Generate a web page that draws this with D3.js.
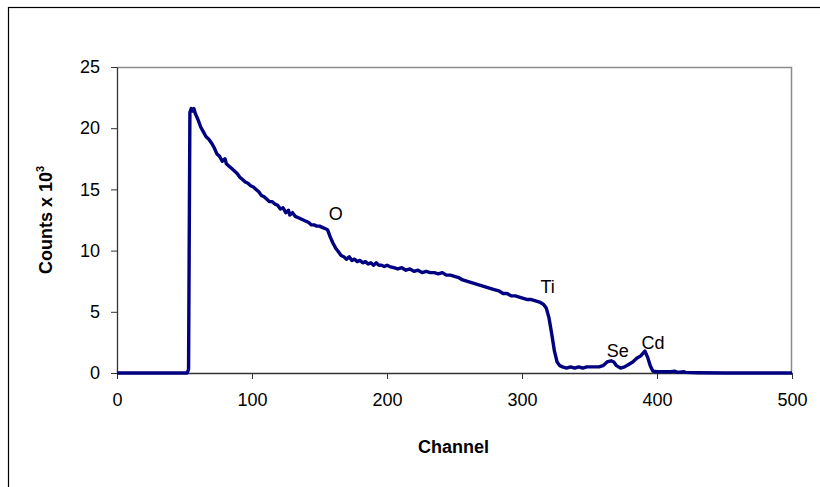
<!DOCTYPE html>
<html lang="en">
  <head>
    <meta charset="UTF-8" />
    <title>RBS spectrum</title>
    <script src="https://d3js.org/d3.v7.min.js"></script>
    <style>
      body { margin: 0; background: #fff; }
      svg { display: block; font-family: "Liberation Sans", Arial, sans-serif; }
      .line { fill: none; stroke: #000080; stroke-width: 3.4px; stroke-linejoin: round; }
    </style>
  </head>
  <body>
    <svg width="820" height="487"></svg>
    <script>
      const channels = [0, 20, 40, 52, 53, 54, 55, 56, 57, 58, 60, 62, 64, 66, 68, 70, 72, 74, 76, 78, 80, 81, 83, 85, 87, 89, 91, 93, 95, 97, 99,
        101, 103, 105, 107, 109, 111, 113, 115, 117, 119, 121, 123, 125, 127, 128, 130, 132, 134, 136, 138, 140, 142, 144, 146, 148, 150,
        152, 154, 156, 158, 160, 162, 164, 166, 168, 170, 172, 174, 176, 178, 180, 182, 184, 186, 188, 190, 192, 194, 196, 198, 200,
        202, 205, 208, 211, 214, 217, 220, 223, 226, 229, 232, 235, 238, 241, 244, 247, 250, 253, 256, 259, 262, 265, 268, 271, 274,
        277, 280, 283, 286, 289, 292, 295, 298, 301, 304, 307, 310, 313, 316, 318, 320, 322, 324, 326, 328, 330, 333, 336, 339, 342,
        345, 348, 351, 354, 357, 360, 363, 366, 368, 370, 373, 376, 379, 382, 385, 388, 391, 393, 395, 397, 400, 405, 410, 413, 415,
        420, 421, 430, 450, 500];
      const counts = [0, 0, 0, 0, 0.3, 21.3, 21.6, 21.4, 21.6, 21.2, 20.7, 20.1, 19.7, 19.3, 19.1, 18.8, 18.4, 17.9, 17.7, 17.3, 17.5, 17.1, 16.9, 16.7, 16.5, 16.3, 16.0, 15.8, 15.6, 15.5, 15.3,
        15.2, 15.0, 14.8, 14.5, 14.4, 14.2, 14.0, 14.0, 13.8, 13.7, 13.4, 13.5, 13.1, 13.3, 12.9, 13.1, 12.8, 12.7, 12.6, 12.5, 12.4, 12.3, 12.1, 12.1, 12.0, 12.0,
        11.9, 11.8, 11.7, 11.1, 10.6, 10.2, 9.9, 9.6, 9.5, 9.3, 9.5, 9.2, 9.3, 9.1, 9.2, 9.0, 9.1, 8.9, 9.0, 8.8, 9.0, 8.8, 8.8, 8.7, 8.8,
        8.7, 8.6, 8.5, 8.6, 8.4, 8.5, 8.3, 8.4, 8.2, 8.3, 8.2, 8.2, 8.1, 8.2, 8.0, 8.0, 7.9, 7.8, 7.6, 7.5, 7.4, 7.3, 7.2, 7.1, 7.0,
        6.9, 6.8, 6.7, 6.5, 6.5, 6.3, 6.3, 6.2, 6.1, 6.0, 6.0, 5.9, 5.8, 5.6, 5.3, 4.5, 3.2, 1.8, 0.9, 0.6, 0.5, 0.4, 0.5, 0.4, 0.5,
        0.4, 0.5, 0.5, 0.5, 0.5, 0.6, 0.9, 1.0, 0.9, 0.6, 0.4, 0.5, 0.7, 0.9, 1.2, 1.4, 1.8, 1.3, 0.6, 0.15, 0.1, 0.1, 0.1, 0.15, 0.05,
        0.1, 0.05, 0.02, 0, 0];
      const xTicks = [0, 100, 200, 300, 400, 500];
      const yTicks = [0, 5, 10, 15, 20, 25];
      const peakNames = ["O", "Ti", "Se", "Cd"];
      const peakChannels = [162, 319, 371, 397];
      const peakCounts = [12.5, 6.5, 1.3, 2.0];

      const svg = d3.select("svg");
      const MARGIN = { TOP: 67, BOTTOM: 114, LEFT: 117, RIGHT: 28 };
      const WIDTH = svg.attr("width") - MARGIN.LEFT - MARGIN.RIGHT;
      const HEIGHT = svg.attr("height") - MARGIN.TOP - MARGIN.BOTTOM;
      const FS = 18;

      // outer frame, runs off the right and bottom edges
      svg.append("rect")
        .attr("x", 8.5).attr("y", 7.5)
        .attr("width", 900).attr("height", 600)
        .attr("fill", "none").attr("stroke", "#000").attr("stroke-width", 1.2);

      const g = svg.append("g").attr("transform", `translate(${MARGIN.LEFT}, ${MARGIN.TOP})`);

      const X = d3.scaleLinear().domain([0, 500]).range([0, WIDTH]);
      const Y = d3.scaleLinear().domain([0, 25]).range([HEIGHT, 0]);

      // plot border (top/right grey)
      g.append("path")
        .attr("d", `M0,0.5H${WIDTH - 0.5}V${HEIGHT}`)
        .attr("fill", "none").attr("stroke", "#8c8c8c").attr("stroke-width", 1.5);

      const xAxis = g.append("g")
        .attr("transform", `translate(0, ${HEIGHT})`)
        .call(d3.axisBottom(X).tickValues(xTicks).tickSize(6).tickPadding(14).tickSizeOuter(0));
      const yAxis = g.append("g")
        .call(d3.axisLeft(Y).tickValues(yTicks).tickSize(6).tickPadding(11).tickSizeOuter(0));

      [xAxis, yAxis].forEach((a) => {
        a.select(".domain").attr("stroke", "#333").attr("stroke-width", 1.3);
        a.selectAll(".tick line").attr("stroke", "#333");
        a.selectAll("text").attr("font-size", FS).attr("fill", "#000")
          .attr("font-family", "'Liberation Sans', Arial, sans-serif");
      });

      const data = channels.map((c, i) => ({ ch: c, v: counts[i] }));
      const line = d3.line().x((d) => X(d.ch)).y((d) => Y(d.v));
      g.append("path").datum(data).attr("class", "line").attr("d", line);

      g.selectAll(".peak").data(peakNames).enter().append("text")
        .attr("class", "peak")
        .attr("x", (d, i) => X(peakChannels[i]))
        .attr("y", (d, i) => Y(peakCounts[i]))
        .attr("font-size", FS)
        .attr("text-anchor", "middle")
        .text((d) => d);

      g.append("text")
        .attr("x", WIDTH / 2 - 1).attr("y", HEIGHT + 80)
        .attr("text-anchor", "middle")
        .attr("font-size", FS).attr("font-weight", "bold")
        .text("Channel");

      const yt = svg.append("text")
        .attr("transform", `translate(52, ${MARGIN.TOP + HEIGHT / 2}) rotate(-90)`)
        .attr("text-anchor", "middle")
        .attr("font-size", FS).attr("font-weight", "bold");
      yt.append("tspan").text("Counts x 10");
      yt.append("tspan").attr("dy", -8).attr("font-size", 11).text("3");
    </script>
  </body>
</html>
